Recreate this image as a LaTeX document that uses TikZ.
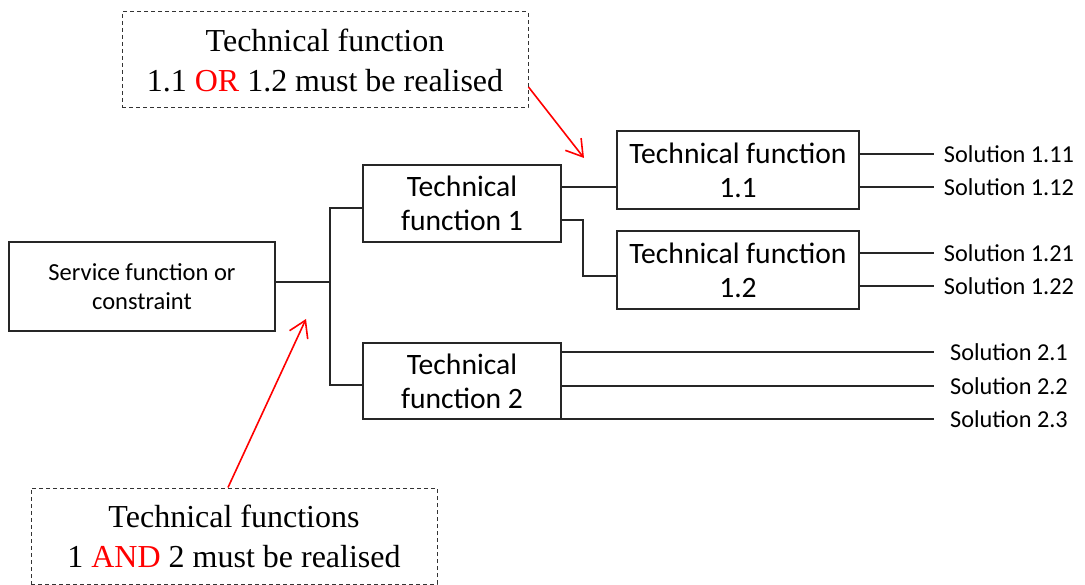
\documentclass[tikz,border=0pt]{standalone}
\usepackage{fontspec}
\setmainfont{Liberation Serif}
\newfontfamily\calfont{Carlito}
\usetikzlibrary{arrows.meta}
\tikzset{
  tfbox/.style={draw=black!85, line width=1.4pt, inner sep=0pt, align=center,
    font=\calfont\fontsize{29.6}{34}\selectfont},
  svcbox/.style={draw=black!85, line width=1.4pt, inner sep=0pt, align=center,
    font=\calfont\fontsize{24.5}{29}\selectfont},
  sol/.style={inner sep=0pt, font=\calfont\fontsize{24.3}{29}\selectfont},
  conn/.style={draw=black!85, line width=1.2pt},
  notebox/.style={draw=black!80, line width=1pt, dash pattern=on 4pt off 3pt,
    inner sep=0pt, minimum width=406, minimum height=96, align=center,
    font=\fontsize{32}{40}\selectfont},
  redarrow/.style={draw=red, line width=1.6pt, -{Straight Barb[length=16pt,width=20pt,line width=1.6pt]}}
}
\begin{document}
\begin{tikzpicture}[x=1pt,y=-1pt]
\useasboundingbox (0,0) rectangle (1085,585);
% boxes
\node[svcbox, minimum width=266, minimum height=89] (svc) at (142,286.5) {Service function or\\constraint};
\node[tfbox, minimum width=198, minimum height=77] (tf1) at (462,203.5) {Technical\\function 1};
\node[tfbox, minimum width=198, minimum height=76] (tf2) at (462,381) {Technical\\function 2};
\node[tfbox, minimum width=242, minimum height=78] (tf11) at (738,170) {Technical function\\1.1};
\node[tfbox, minimum width=242, minimum height=78] (tf12) at (738,270) {Technical function\\1.2};
% solutions
\node[sol] (s111) at (1009,154) {Solution 1.11};
\node[sol] (s112) at (1009,187) {Solution 1.12};
\node[sol] (s121) at (1009,253) {Solution 1.21};
\node[sol] (s122) at (1009,286) {Solution 1.22};
\node[sol] (s21) at (1009,352) {Solution 2.1};
\node[sol] (s22) at (1009,386) {Solution 2.2};
\node[sol] (s23) at (1009,419) {Solution 2.3};
% note boxes
\node[notebox] (orbox) at (325,60) {Technical function\\1.1 \textcolor{red}{OR} 1.2 must be realised};
\node[notebox] (andbox) at (234,536) {Technical functions\\1 \textcolor{red}{AND} 2 must be realised};
% coordinates
\coordinate (j) at (330,282);
\coordinate (jt) at (330,208);
\coordinate (jb) at (330,385);
\coordinate (c1) at (561,187);
\coordinate (c2) at (583,220);
\coordinate (c3) at (583,276);
\coordinate (le) at (934,0);
\coordinate (a1s) at (528,87);
\coordinate (a1e) at (584,158);
\coordinate (a2s) at (228,488);
\coordinate (a2e) at (306,319);
% connectors
\draw[conn] (svc.east |- j) -- (j);
\draw[conn] (tf1.west |- jt) -- (jt) -- (jb) -- (tf2.west |- jb);
\draw[conn] (tf1.east |- c1) -- (tf11.west |- c1);
\draw[conn] (tf1.east |- c2) -- (c2) -- (c3) -- (tf12.west |- c3);
\draw[conn] (tf11.east |- s111) -- (le |- s111);
\draw[conn] (tf11.east |- s112) -- (le |- s112);
\draw[conn] (tf12.east |- s121) -- (le |- s121);
\draw[conn] (tf12.east |- s122) -- (le |- s122);
\draw[conn] (tf2.east |- s21) -- (le |- s21);
\draw[conn] (tf2.east |- s22) -- (le |- s22);
\draw[conn] (tf2.east |- s23) -- (le |- s23);
% red arrows
\draw[redarrow] (orbox.east |- a1s) -- (a1e);
\draw[redarrow] (andbox.north -| a2s) -- (a2e);
\end{tikzpicture}
\end{document}
